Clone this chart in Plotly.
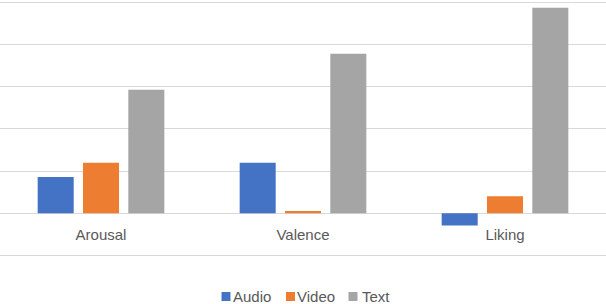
import plotly.graph_objects as go

categories = ["Arousal", "Valence", "Liking"]
audio = [0.86, 1.20, -0.29]
video = [1.20, 0.05, 0.40]
text = [2.93, 3.79, 4.88]

series_names = ["Audio", "Video", "Text"]
series_colors = ["#4472C4", "#ED7D31", "#A5A5A5"]
series_values = [audio, video, text]

W, H = 606.0, 304.0

fig = go.Figure()
for name, vals, col in zip(series_names, series_values, series_colors):
    fig.add_trace(go.Bar(x=categories, y=vals, name=name, marker_color=col,
                         marker_line_width=0, showlegend=False))

unit = 42.1
zero_px = 213.2
ylo, yhi = -1.1, 5.05
bot_px = zero_px - ylo * unit
top_px = zero_px - yhi * unit
dom = [(H - bot_px) / H, (H - top_px) / H]
zero_pos = (H - zero_px) / H

# custom legend (key squares + labels) laid out like the reference
legend_sq_left = [221.5, 286, 348.5]
legend_txt_left = [233, 297, 362]
for name, col, sx, tx in zip(series_names, series_colors, legend_sq_left, legend_txt_left):
    fig.add_shape(type="rect", xref="paper", yref="paper",
                  x0=sx / W, x1=(sx + 9) / W, y0=(H - 301) / H, y1=(H - 292) / H,
                  fillcolor=col, line_width=0)
    fig.add_annotation(text=name, xref="paper", yref="paper", x=tx / W, y=(H - 296.5) / H,
                       xanchor="left", yanchor="middle", showarrow=False,
                       font=dict(size=15, color="#595959"), xshift=-2)

fig.update_layout(
    width=606, height=304,
    margin=dict(l=0, r=0, t=0, b=0, autoexpand=False),
    plot_bgcolor="white", paper_bgcolor="white",
    barmode="group", bargap=0.327, bargroupgap=0.205,
    font=dict(family="Liberation Sans, Arial, sans-serif", size=15, color="#595959"),
    showlegend=False,
    xaxis=dict(anchor="free", position=zero_pos, showline=False, ticks="outside",
               ticklen=8, tickcolor="rgba(0,0,0,0)", showgrid=False, automargin=False,
               tickfont=dict(size=15, color="#595959"), domain=[0, 1]),
    yaxis=dict(range=[ylo, yhi], dtick=1, showgrid=True, gridcolor="#D9D9D9",
               gridwidth=1.3, zeroline=True, zerolinecolor="#D9D9D9", automargin=False,
               zerolinewidth=1.3, showticklabels=False, fixedrange=True, domain=dom),
)

fig.write_html("out.html", config={"displayModeBar": False},
               post_script="document.body.style.margin='0';")
